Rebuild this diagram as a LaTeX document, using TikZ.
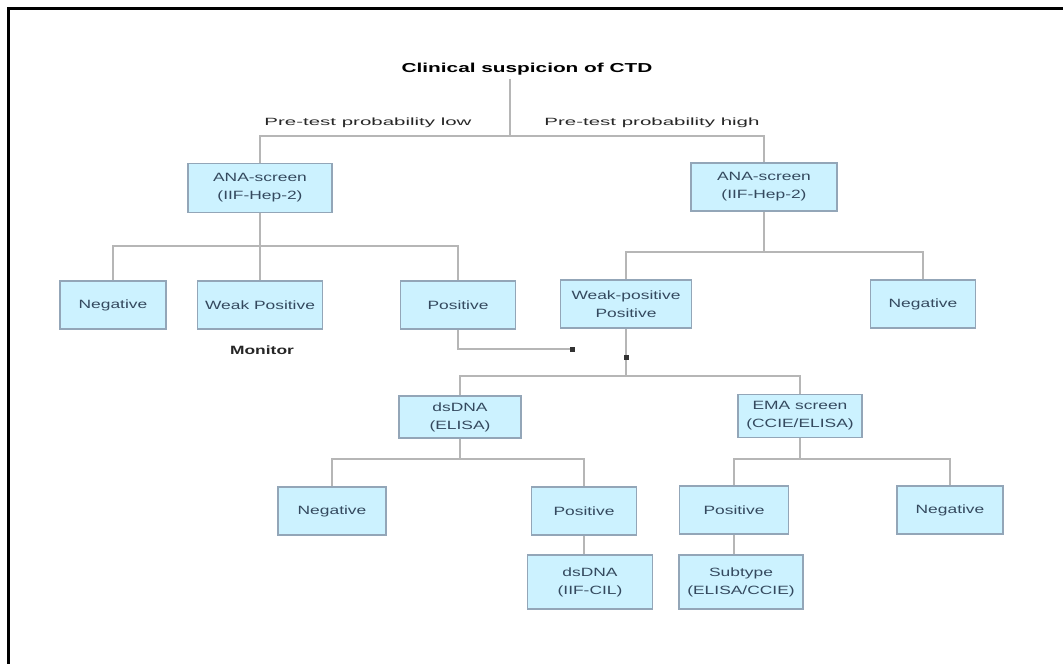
\documentclass[tikz,border=0pt]{standalone}
\usepackage{fontspec}
\setmainfont{Liberation Sans}
\newfontfamily\boxfont[FakeStretch=1.45]{Liberation Sans}
\newfontfamily\titlefont[FakeStretch=1.6]{Liberation Sans}
\newfontfamily\notefont[FakeStretch=1.95]{Liberation Sans}
\definecolor{boxfill}{HTML}{CCF2FF}
\definecolor{boxline}{HTML}{93A6B8}
\definecolor{boxtext}{HTML}{34495E}
\definecolor{wirecol}{HTML}{B6B6B6}
\tikzset{
  wire/.style={draw=wirecol, line width=1.5pt},
  junc/.style={fill=black!80, minimum size=5pt, inner sep=0pt},
  note/.style={font=\notefont\fontsize{10.5}{12}\selectfont, text=black!85},
}
\begin{document}
\begin{tikzpicture}[x=1pt,y=-1pt]
  \useasboundingbox (0,0) rectangle (1063,664);
  \draw[line width=3pt] (8,664) -- (8,8) -- (1063,8);

  \node (ctd) at (527,69) {\titlefont\fontsize{13}{15}\selectfont\bfseries Clinical suspicion of CTD};
  \node[note] (low)  at (368,123) {Pre-test probability low};
  \node[note] (high) at (652,123) {Pre-test probability high};
  \node[font=\boxfont\fontsize{12}{14}\selectfont\bfseries, text=black!85] (mon) at (262,350) {Monitor};

  \begin{scope}[every node/.style={draw=boxline, fill=boxfill, text=boxtext, align=center,
      line width=1.2pt, inner sep=1pt, minimum height=48pt,
      font=\boxfont\fontsize{12}{18}\selectfont}]
    \node[minimum width=144pt, minimum height=49pt] (anaL) at (260,188) {ANA-screen\\(IIF-Hep-2)};
    \node[minimum width=146pt] (anaR) at (764,187) {ANA-screen\\(IIF-Hep-2)};
    \node[minimum width=106pt] (negL)  at (113,305) {Negative};
    \node[minimum width=125pt] (weakL) at (260,305) {Weak Positive};
    \node[minimum width=115pt] (posL)  at (458,305) {Positive};
    \node[minimum width=131pt] (wpR)   at (626,304) {Weak-positive\\Positive};
    \node[minimum width=105pt] (negR)  at (923,304) {Negative};
    \node[minimum width=122pt, minimum height=42pt] (dsE) at (460,417) {dsDNA\\(ELISA)};
    \node[minimum width=124pt, minimum height=43pt] (ema) at (800,416) {EMA screen\\(CCIE/ELISA)};
    \node[minimum width=108pt] (negB) at (332,511) {Negative};
    \node[minimum width=105pt] (posB) at (584,511) {Positive};
    \node[minimum width=125pt, minimum height=54pt] (dsC) at (590,582) {dsDNA\\(IIF-CIL)};
    \node[minimum width=109pt] (posE) at (734,510) {Positive};
    \node[minimum width=106pt] (negE) at (950,510) {Negative};
    \node[minimum width=124pt, minimum height=54pt] (sub) at (741,582) {Subtype\\(ELISA/CCIE)};
  \end{scope}

  \coordinate (top) at (510,136);
  \coordinate (jL) at (260,246);
  \coordinate (jR) at (764,252);
  \coordinate (jM) at (626,376);
  \coordinate (jD) at (460,459);
  \coordinate (jE) at (800,459);

  \draw[wire] (ctd.south -| top) -- (top);
  \draw[wire] (anaL) |- (top) -| (anaR);
  \draw[wire] (anaL) -- (jL) -- (weakL);
  \draw[wire] (negL) |- (jL) -| (posL);
  \draw[wire] (anaR) -- (jR);
  \draw[wire] (wpR) |- (jR) -| (negR);
  \draw[wire] (posL) |- (572,349) coordinate (k1);
  \draw[wire] (wpR) -- (jM);
  \draw[wire] (dsE) |- (jM) -| (ema);
  \draw[wire] (dsE) -- (jD);
  \draw[wire] (negB) |- (jD) -| (posB);
  \draw[wire] (posB) -- (posB |- dsC.north);
  \draw[wire] (ema) -- (jE);
  \draw[wire] (posE) |- (jE) -| (negE);
  \draw[wire] (posE) -- (posE |- sub.north);

  \node[junc] (d1) at (k1) {};
  \node[junc] (d2) at (626,357) {};
\end{tikzpicture}
\end{document}
